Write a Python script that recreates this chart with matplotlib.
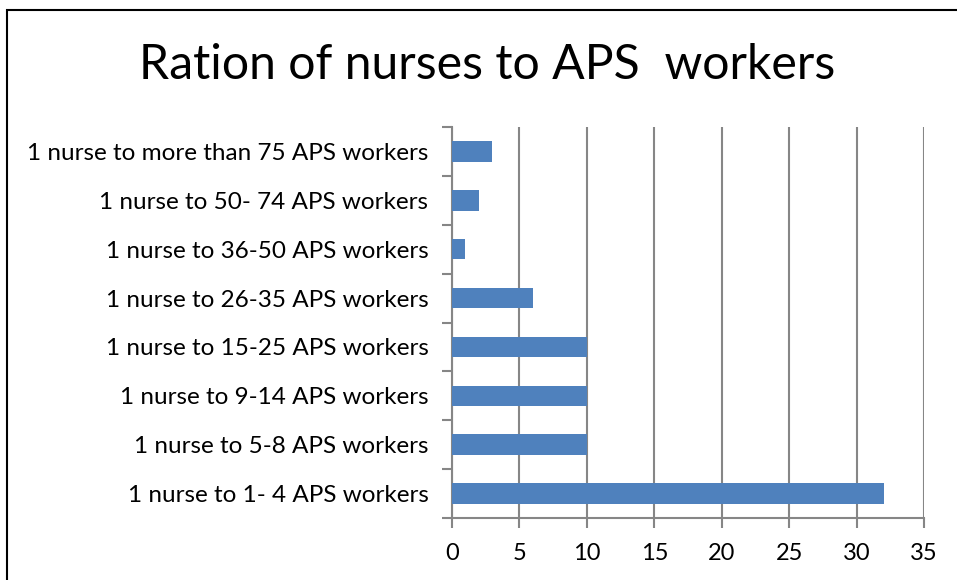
import matplotlib
matplotlib.use("Agg")
import matplotlib.pyplot as plt
from matplotlib.patches import Rectangle

categories = [
    "1 nurse to 1- 4 APS workers",
    "1 nurse to 5-8 APS workers",
    "1 nurse to 9-14 APS workers",
    "1 nurse to 15-25 APS workers",
    "1 nurse to 26-35 APS workers",
    "1 nurse to 36-50 APS workers",
    "1 nurse to 50- 74 APS workers",
    "1 nurse to more than 75 APS workers",
]
values = [32, 10, 10, 10, 6, 1, 2, 3]
xticks = [0, 5, 10, 15, 20, 25, 30, 35]

plt.rcParams["font.family"] = ["Lato", "DejaVu Sans"]

W, H = 957, 580
fig = plt.figure(figsize=(W / 100, H / 100), dpi=100)
ax = fig.add_axes([452 / W, 1 - 518 / H, (924 - 452) / W, (518 - 127) / H])

grey = "#868686"
ypos = range(len(categories))
ax.barh(list(ypos), values, height=0.42, color="#4F81BD", zorder=3)

ax.set_xlim(0, 35)
ax.set_ylim(-0.5, len(categories) - 0.5)
ax.set_xticks(xticks)
ax.set_xticklabels([str(t) for t in xticks], fontsize=17)
ax.set_yticks(list(ypos))
ax.set_yticklabels(categories, fontsize=17.5)
ax.tick_params(axis="y", length=0, pad=17)
ax.tick_params(axis="x", length=7, width=1.5, color=grey, pad=11)
# minor ticks at category boundaries on the y axis
ax.set_yticks([i - 0.5 for i in range(len(categories) + 1)], minor=True)
ax.tick_params(axis="y", which="minor", length=7, width=1.5, color=grey)

ax.grid(True, axis="x", color=grey, linewidth=1.5, zorder=0)
for s in ["top", "right"]:
    ax.spines[s].set_visible(False)
for s in ["left", "bottom"]:
    ax.spines[s].set_color(grey)
    ax.spines[s].set_linewidth(1.5)

fig.text(487 / W, 1 - 65 / H, "Ration of nurses to APS  workers",
         ha="center", va="center", fontsize=34.7)

fig.patches.append(Rectangle((7 / W, -0.1), 1.2, 1 - 10 / H + 0.1,
                             transform=fig.transFigure, fill=False,
                             edgecolor="black", linewidth=1.5))

fig.savefig("out.png", dpi=100)
